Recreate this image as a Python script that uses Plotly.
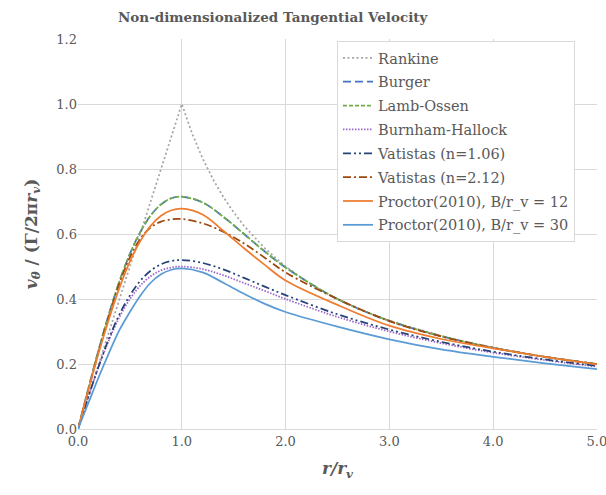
import plotly.graph_objects as go

# ---- data ----
x_rankine = [0.0, 0.5, 1.0, 1.1, 1.2, 1.3, 1.4, 1.5, 1.6, 1.8, 2.0, 2.25, 2.5, 2.75, 3.0, 3.5, 4.0, 4.5, 5.0]
y_rankine = [0.0, 0.5, 1.0, 0.909, 0.833, 0.769, 0.714, 0.667, 0.625, 0.556, 0.5, 0.444, 0.4, 0.364, 0.333, 0.286, 0.25, 0.222, 0.2]

x_grid = [0.0, 0.1, 0.2, 0.3, 0.4, 0.5, 0.6, 0.7, 0.8, 0.9, 1.0, 1.2, 1.4, 1.6, 1.8, 2.0, 2.5, 3.0, 3.5, 4.0, 4.5, 5.0]

y_burger = [0.0, 0.125, 0.245, 0.356, 0.455, 0.539, 0.606, 0.657, 0.691, 0.710, 0.715, 0.697, 0.653, 0.600, 0.546, 0.497, 0.400, 0.333, 0.286, 0.250, 0.222, 0.200]
y_lamb = [0.0, 0.125, 0.245, 0.356, 0.455, 0.539, 0.606, 0.657, 0.691, 0.710, 0.715, 0.697, 0.653, 0.600, 0.546, 0.497, 0.400, 0.333, 0.286, 0.250, 0.222, 0.200]
y_burnham = [0.0, 0.099, 0.192, 0.275, 0.345, 0.400, 0.441, 0.470, 0.488, 0.497, 0.500, 0.492, 0.473, 0.449, 0.425, 0.400, 0.345, 0.300, 0.264, 0.235, 0.212, 0.192]
y_vat106 = [0.0, 0.099, 0.194, 0.280, 0.353, 0.411, 0.456, 0.487, 0.507, 0.517, 0.520, 0.511, 0.491, 0.465, 0.438, 0.412, 0.353, 0.306, 0.268, 0.238, 0.214, 0.194]
y_vat212 = [0.0, 0.120, 0.240, 0.350, 0.448, 0.528, 0.585, 0.620, 0.638, 0.645, 0.646, 0.633, 0.607, 0.571, 0.527, 0.482, 0.400, 0.332, 0.285, 0.250, 0.222, 0.200]
y_proc12 = [0.0, 0.120, 0.235, 0.340, 0.435, 0.515, 0.578, 0.625, 0.656, 0.673, 0.678, 0.660, 0.610, 0.556, 0.505, 0.457, 0.382, 0.318, 0.277, 0.248, 0.222, 0.199]
y_proc30 = [0.0, 0.080, 0.160, 0.235, 0.305, 0.360, 0.410, 0.450, 0.476, 0.490, 0.494, 0.482, 0.450, 0.416, 0.385, 0.360, 0.315, 0.276, 0.245, 0.222, 0.202, 0.184]

names = ["Rankine", "Burger", "Lamb-Ossen", "Burnham-Hallock", "Vatistas (n=1.06)",
         "Vatistas (n=2.12)", "Proctor(2010), B/r_v = 12", "Proctor(2010), B/r_v = 30"]
colors = ["#A5A5A5", "#4472C4", "#70AD47", "#9966CC", "#264478", "#9E480E", "#ED7D31", "#5B9BD5"]
dashes = ["2px,2.5px", "8px,4px", "4px,2px", "1.5px,1.5px", "8px,3px,2px,3px,2px,3px",
          "8px,3px,2px,3px", "solid", "solid"]

series = [(x_rankine, y_rankine), (x_grid, y_burger), (x_grid, y_lamb), (x_grid, y_burnham),
          (x_grid, y_vat106), (x_grid, y_vat212), (x_grid, y_proc12), (x_grid, y_proc30)]

fig = go.Figure()
for i, (xs, ys) in enumerate(series):
    fig.add_trace(go.Scatter(
        x=xs, y=ys, mode="lines", name=names[i], legendgroup=f"g{i}",
        line=dict(color=colors[i], width=1.75, dash=dashes[i],
                  shape="linear" if i == 0 else "spline"),
    ))

font_fam = "DejaVu Serif"
grey = "#595959"
fig.update_layout(
    width=606, height=495,
    margin=dict(l=78, r=9, t=39, b=66),
    paper_bgcolor="white", plot_bgcolor="white",
    font=dict(family=font_fam, color=grey, size=13),
    title=dict(text="<b>Non-dimensionalized Tangential Velocity</b>",
               x=0.45, xanchor="center", xref="container", y=0.975, yref="container",
               font=dict(family=font_fam, size=13.5, color=grey)),
    legend=dict(x=0.499, y=0.995, xanchor="left", yanchor="top",
                bgcolor="white", bordercolor="#D9D9D9", borderwidth=1,
                font=dict(family=font_fam, size=14.5, color=grey),
                tracegroupgap=2, traceorder="grouped", itemwidth=30),
    showlegend=True,
)
fig.update_xaxes(range=[0, 5.001], dtick=1, tickformat=".1f", showgrid=True, gridcolor="#D9D9D9",
                 zeroline=False, showline=True, linecolor="#D9D9D9", ticks="", automargin=False,
                 ticklabeloverflow="allow",
                 tickfont=dict(size=13, color=grey),
                 title=dict(text="<b><i>r/r<sub>v</sub></i></b>", font=dict(size=17, color=grey), standoff=14))
fig.update_yaxes(range=[0, 1.2], dtick=0.2, tickformat=".1f", showgrid=True, gridcolor="#D9D9D9",
                 zeroline=False, showline=False, ticks="", automargin=False,
                 tickfont=dict(size=13, color=grey),
                 title=dict(text="<b><i>v<sub>θ</sub></i> / (Γ/2π<i>r<sub>v</sub></i>)</b>",
                            font=dict(size=17, color=grey), standoff=14))

fig.write_html("out.html")
